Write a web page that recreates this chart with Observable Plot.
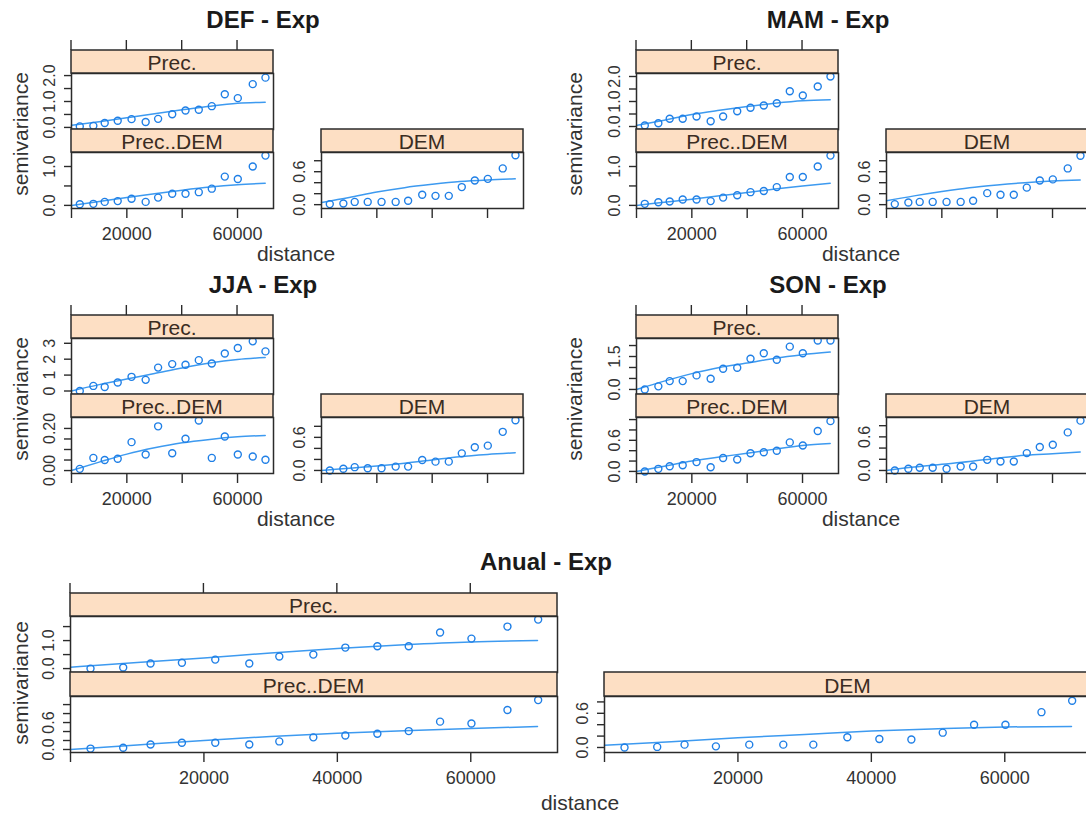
<!DOCTYPE html>
<html>
<head>
<meta charset="utf-8">
<script src="https://cdn.jsdelivr.net/npm/d3@7"></script>
<script src="https://cdn.jsdelivr.net/npm/@observablehq/plot@0.6"></script>
<style>
  html, body { margin: 0; padding: 0; background: #fff; overflow: hidden; }
  #fig { position: relative; width: 1086px; height: 816px; overflow: hidden;
         font-family: "Liberation Sans", Arial, Helvetica, sans-serif; color: #2b2b2b; }
  #fig svg { position: absolute; overflow: visible; }
  .t { position: absolute; white-space: nowrap; transform: translate(-50%, -50%); line-height: 1; }
  .title { font-weight: bold; font-size: 24px; color: #1a1a1a; }
  .axt { font-size: 21px; color: #333; }
  .rot { transform: translate(-50%, -50%) rotate(-90deg); }
</style>
</head>
<body>
<div id="fig"></div>
<script>
// Lag distances of the empirical (cross-)variograms and the distances at which the fitted model is drawn
const lagDistance = [3000, 7900, 12000, 16700, 21700, 26800, 31300, 36400, 41200, 46000, 50700, 55400, 60100, 65500, 70100];
const modelDistance = [0, 10000, 20000, 30000, 40000, 50000, 60000, 70000];
const distanceTicks = [0, 20000, 40000, 60000];

// DEF
const defPrec = [0.04, 0.06, 0.17, 0.26, 0.32, 0.21, 0.33, 0.51, 0.65, 0.68, 0.82, 1.28, 1.13, 1.67, 1.92];
const defPrecFit = [0.08, 0.22, 0.37, 0.53, 0.68, 0.82, 0.93, 0.97];
const defPrecDem = [0.03, 0.04, 0.09, 0.11, 0.17, 0.09, 0.20, 0.30, 0.30, 0.34, 0.43, 0.74, 0.68, 1.00, 1.28];
const defPrecDemFit = [0.0, 0.10, 0.20, 0.30, 0.39, 0.47, 0.53, 0.57];
const defDem = [0.01, 0.02, 0.05, 0.05, 0.05, 0.05, 0.07, 0.18, 0.16, 0.16, 0.32, 0.44, 0.47, 0.66, 0.90];
const defDemFit = [0.04, 0.13, 0.23, 0.31, 0.37, 0.42, 0.45, 0.47];

// MAM
const mamPrec = [0.04, 0.13, 0.31, 0.31, 0.40, 0.21, 0.40, 0.61, 0.75, 0.84, 0.93, 1.41, 1.24, 1.60, 2.00];
const mamPrecFit = [0.04, 0.25, 0.48, 0.65, 0.80, 0.93, 1.03, 1.07];
const mamPrecDem = [0.04, 0.08, 0.10, 0.15, 0.15, 0.11, 0.20, 0.26, 0.34, 0.37, 0.47, 0.73, 0.73, 1.00, 1.28];
const mamPrecDemFit = [0.0, 0.08, 0.16, 0.25, 0.33, 0.42, 0.50, 0.57];
const mamDem = [0.01, 0.04, 0.05, 0.05, 0.05, 0.05, 0.07, 0.21, 0.18, 0.18, 0.31, 0.44, 0.46, 0.66, 0.89];
const mamDemFit = [0.07, 0.16, 0.24, 0.31, 0.36, 0.40, 0.43, 0.45];

// JJA
const jjaPrec = [0.0, 0.32, 0.25, 0.53, 0.89, 0.70, 1.47, 1.69, 1.65, 1.94, 1.73, 2.36, 2.70, 3.12, 2.49];
const jjaPrecFit = [0.0, 0.40, 0.76, 1.10, 1.45, 1.76, 1.98, 2.11];
const jjaPrecDem = [0.008, 0.060, 0.050, 0.056, 0.135, 0.076, 0.210, 0.082, 0.151, 0.238, 0.060, 0.162, 0.076, 0.067, 0.051];
const jjaPrecDemFit = [0.0, 0.040, 0.078, 0.108, 0.132, 0.148, 0.160, 0.167];
const jjaDem = [0.0, 0.03, 0.06, 0.04, 0.04, 0.07, 0.07, 0.19, 0.16, 0.16, 0.31, 0.42, 0.45, 0.70, 0.91];
const jjaDemFit = [0.0, 0.04, 0.08, 0.13, 0.19, 0.25, 0.29, 0.32];

// SON
const sonPrec = [0.0, 0.14, 0.38, 0.38, 0.64, 0.49, 0.94, 0.99, 1.40, 1.65, 1.35, 1.95, 1.65, 2.23, 2.23];
const sonPrecFit = [0.0, 0.38, 0.72, 1.00, 1.20, 1.42, 1.58, 1.70];
const sonPrecDem = [0.0, 0.05, 0.10, 0.12, 0.18, 0.08, 0.26, 0.23, 0.35, 0.37, 0.40, 0.56, 0.50, 0.78, 0.97];
const sonPrecDemFit = [0.0, 0.10, 0.20, 0.28, 0.35, 0.43, 0.50, 0.54];
const sonDem = [0.0, 0.03, 0.05, 0.05, 0.03, 0.07, 0.07, 0.19, 0.16, 0.16, 0.31, 0.42, 0.46, 0.68, 0.89];
const sonDemFit = [0.0, 0.06, 0.11, 0.16, 0.22, 0.27, 0.30, 0.33];

// Anual
const anualPrec = [0.0, 0.04, 0.18, 0.21, 0.32, 0.18, 0.43, 0.50, 0.75, 0.80, 0.80, 1.29, 1.07, 1.50, 1.75];
const anualPrecFit = [0.05, 0.22, 0.38, 0.56, 0.72, 0.85, 0.95, 1.00];
const anualPrecDem = [0.02, 0.04, 0.11, 0.15, 0.15, 0.11, 0.18, 0.27, 0.31, 0.35, 0.41, 0.62, 0.58, 0.88, 1.10];
const anualPrecDemFit = [0.0, 0.10, 0.20, 0.29, 0.36, 0.42, 0.47, 0.51];
const anualDem = [0.0, 0.01, 0.05, 0.02, 0.05, 0.05, 0.05, 0.18, 0.15, 0.14, 0.26, 0.40, 0.40, 0.62, 0.82];
const anualDemFit = [0.04, 0.10, 0.17, 0.23, 0.29, 0.33, 0.36, 0.37];

// Semivariance tick values and their printed labels (blank = unlabelled tick)
const ticksHalf2 = [0, 0.5, 1, 1.5, 2];
const labelsHalf2 = ["0.0", "", "1.0", "", "2.0"];
const ticksHalf1 = [0, 0.5, 1];
const labelsHalf1 = ["0.0", "", "1.0"];
const ticksFifth = [0, 0.2, 0.4, 0.6, 0.8];
const labelsFifth = ["0.0", "", "", "0.6", ""];
const ticksFifth1 = [0, 0.2, 0.4, 0.6, 0.8, 1.0];
const labelsFifth1 = ["0.0", "", "", "0.6", "", ""];
const ticksUnit3 = [0, 1, 2, 3];
const labelsUnit3 = ["0", "1", "2", "3"];
const ticksSmall = [0, 0.05, 0.10, 0.15, 0.20];
const labelsSmall = ["0.00", "", "", "", "0.20"];
const labelsSon = ["0.0", "", "", "1.5", ""];
const ticksHalf15 = [0, 0.5, 1, 1.5];
const labelsHalf15 = ["0.0", "", "1.0", ""];

const titles = ["DEF - Exp", "MAM - Exp", "JJA - Exp", "SON - Exp", "Anual - Exp"];

// ---- drawing ----
const DOT = "#1f7fe6", LINE = "#3d9af0", STRIP = "#fddfc4", INK = "#2b2b2b";
const fig = document.getElementById("fig");

function stripMark(label, stripH, topTicks) {
  return (index, scales, values, dim) => {
    const g = d3.create("svg:g");
    const x0 = dim.marginLeft, x1 = dim.width - dim.marginRight;
    const y1 = dim.marginTop, y0 = y1 - stripH;
    g.append("rect").attr("x", x0).attr("y", y0).attr("width", x1 - x0).attr("height", stripH)
      .attr("fill", STRIP).attr("stroke", INK).attr("stroke-width", 1.5);
    g.append("text").attr("x", (x0 + x1) / 2).attr("y", y1 - 3)
      .attr("text-anchor", "middle").attr("font-size", 21).attr("fill", "#3a2c22").text(label);
    if (topTicks) {
      for (const t of distanceTicks) {
        const x = scales.x(t);
        g.append("line").attr("x1", x).attr("x2", x).attr("y1", y0 - 10).attr("y2", y0)
          .attr("stroke", INK).attr("stroke-width", 1.4);
      }
    }
    return g.node();
  };
}

function panel(p) {
  const ML = 46, MR = 4, MB = 46, TOP = 12;
  const MT = p.stripH + TOP;
  const pts = lagDistance.map((d, i) => ({d, v: p.values[i]}));
  const fit = modelDistance.map((d, i) => ({d, v: p.fit[i]}));
  const ylab = p.ticks.map((t, i) => ({t, s: p.labels[i]})).filter(o => o.s !== "");
  const marks = [
    Plot.line(fit, {x: "d", y: "v", stroke: LINE, strokeWidth: 1.5, curve: "monotone-x"}),
    Plot.dot(pts, {x: "d", y: "v", r: 3.5, stroke: DOT, strokeWidth: 1.4, fill: "none"}),
    Plot.frame({stroke: INK, strokeWidth: 1.5}),
    Plot.axisY({ticks: p.ticks, tickSize: 7, tickFormat: () => "", label: null, strokeWidth: 1.4}),
    Plot.text(ylab, {y: "t", text: "s", frameAnchor: "left", dx: -22, rotate: -90,
      fontSize: 16, fill: "#333", textAnchor: "middle", lineAnchor: "middle"}),
    stripMark(p.name, p.stripH, p.topTicks)
  ];
  if (p.xLabels) {
    marks.push(Plot.axisX({anchor: "bottom", ticks: distanceTicks, tickSize: 10, tickPadding: 9,
      fontSize: 18, label: null, strokeWidth: 1.4, fill: "#333",
      tickFormat: d => p.xLabels.includes(d) ? String(d) : ""}));
  }
  const svg = Plot.plot({
    width: p.width + ML + MR,
    height: MT + p.plotH + MB,
    marginLeft: ML, marginRight: MR, marginTop: MT, marginBottom: MB,
    x: {domain: [0, 73000], axis: null},
    y: {domain: p.domain, axis: null},
    style: {background: "transparent", color: INK, maxWidth: "none",
      fontFamily: "'Liberation Sans', Arial, sans-serif"},
    marks
  });
  svg.style.left = (p.left - ML) + "px";
  svg.style.top = (p.stripTop - TOP) + "px";
  fig.appendChild(svg);
}

function label(text, x, y, cls) {
  const el = document.createElement("div");
  el.className = "t " + cls;
  el.style.left = x + "px";
  el.style.top = y + "px";
  el.textContent = text;
  fig.appendChild(el);
}

// Seasonal groups: Prec. over Prec..DEM on the left, DEM on the right
const seasons = [
  {gx: 0, gy: 0, title: titles[0], semiX: 20,
   prec: [defPrec, defPrecFit, [-0.08, 2.08], ticksHalf2, labelsHalf2],
   cross: [defPrecDem, defPrecDemFit, [-0.08, 1.36], ticksHalf1, labelsHalf1],
   dem: [defDem, defDemFit, [-0.07, 0.95], ticksFifth, labelsFifth]},
  {gx: 565, gy: 0, title: titles[1], semiX: 9,
   prec: [mamPrec, mamPrecFit, [-0.12, 2.12], ticksHalf2, labelsHalf2],
   cross: [mamPrecDem, mamPrecDemFit, [-0.08, 1.36], ticksHalf1, labelsHalf1],
   dem: [mamDem, mamDemFit, [-0.07, 0.95], ticksFifth, labelsFifth]},
  {gx: 0, gy: 265, title: titles[2], semiX: 20,
   prec: [jjaPrec, jjaPrecFit, [-0.22, 3.3], ticksUnit3, labelsUnit3],
   cross: [jjaPrecDem, jjaPrecDemFit, [-0.014, 0.252], ticksSmall, labelsSmall],
   dem: [jjaDem, jjaDemFit, [-0.055, 0.96], ticksFifth, labelsFifth]},
  {gx: 565, gy: 265, title: titles[3], semiX: 9,
   prec: [sonPrec, sonPrecFit, [-0.23, 2.32], ticksHalf2, labelsSon],
   cross: [sonPrecDem, sonPrecDemFit, [-0.04, 1.04], ticksFifth1, labelsFifth1],
   dem: [sonDem, sonDemFit, [-0.054, 0.946], ticksFifth, labelsFifth]}
];

for (const s of seasons) {
  const common = {width: 202, plotH: 56};
  panel({...common, name: "Prec.", left: s.gx + 71, stripTop: s.gy + 50, stripH: 23, topTicks: true,
    values: s.prec[0], fit: s.prec[1], domain: s.prec[2], ticks: s.prec[3], labels: s.prec[4]});
  panel({...common, name: "Prec..DEM", left: s.gx + 71, stripTop: s.gy + 129, stripH: 23, xLabels: [20000, 60000],
    values: s.cross[0], fit: s.cross[1], domain: s.cross[2], ticks: s.cross[3], labels: s.cross[4]});
  panel({...common, name: "DEM", left: s.gx + 321, stripTop: s.gy + 129, stripH: 23, xLabels: [],
    values: s.dem[0], fit: s.dem[1], domain: s.dem[2], ticks: s.dem[3], labels: s.dem[4]});
  label(s.title, s.gx + 263, s.gy + 20, "title");
  label("distance", s.gx + 296, s.gy + 253, "axt");
  label("semivariance", s.gx + s.semiX, s.gy + 134, "axt rot");
}

// Annual group, wider panels
const wide = {width: 487, plotH: 56};
panel({...wide, name: "Prec.", left: 70, stripTop: 593, stripH: 23, topTicks: true,
  values: anualPrec, fit: anualPrecFit, domain: [-0.14, 1.86], ticks: ticksHalf15, labels: labelsHalf15});
panel({...wide, name: "Prec..DEM", left: 70, stripTop: 672, stripH: 24, xLabels: [20000, 40000, 60000],
  values: anualPrecDem, fit: anualPrecDemFit, domain: [-0.067, 1.18], ticks: ticksFifth1, labels: labelsFifth1});
panel({...wide, name: "DEM", left: 604, stripTop: 672, stripH: 24, xLabels: [20000, 40000, 60000],
  values: anualDem, fit: anualDemFit, domain: [-0.088, 0.895], ticks: ticksFifth, labels: labelsFifth});
label(titles[4], 546, 562, "title");
label("distance", 580, 802, "axt");
label("semivariance", 20, 683, "axt rot");
</script>
</body>
</html>
